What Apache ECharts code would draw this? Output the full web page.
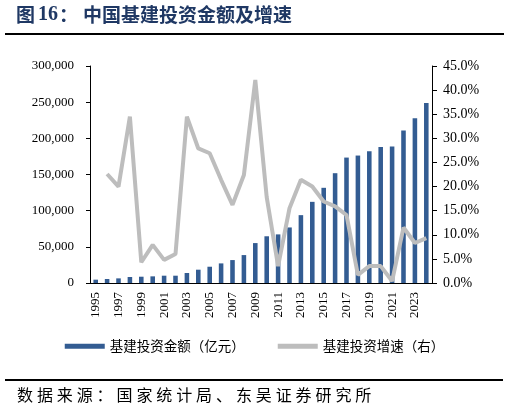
<!DOCTYPE html>
<html><head><meta charset="utf-8">
<script src="https://cdn.jsdelivr.net/npm/echarts@6/dist/echarts.min.js"></script>
<style>html,body{margin:0;padding:0;background:#fff}#c{width:509px;height:413px}</style>
</head><body><div id="c"></div>
<script>
const years = ['1995','1996','1997','1998','1999','2000','2001','2002','2003','2004','2005','2006','2007','2008','2009','2010','2011','2012','2013','2014','2015','2016','2017','2018','2019','2020','2021','2022','2023','2024'];
const investAmount = [4600,5500,6400,8300,8700,9200,10100,10100,13800,18400,22500,27100,31700,38600,55200,64600,67200,76800,93800,112200,131600,151800,173400,176200,182200,188100,188600,210700,227700,248900];
const investGrowth = [null,22.6,20.0,34.5,4.3,7.9,4.8,6.0,34.5,27.9,26.9,21.4,16.2,22.4,42.1,17.8,3.5,15.5,21.4,20.0,16.9,15.9,14.1,1.7,3.5,3.5,0.4,11.5,8.3,9.3];
const seriesNames = ['基建投资金额（亿元）','基建投资增速（右）'];
const titlePrefix = '图';
const titleNumber = '16';
const titleColon = '：';
const titleRest = '中国基建投资金额及增速';
const sourceText = '数据来源：国家统计局、东吴证券研究所';

const serif = '"Liberation Serif","Times New Roman",serif';
const cjk = '"Noto Sans CJK SC","Noto Sans CJK JP",sans-serif';

const sourceChars = Array.from(sourceText).map((ch,i)=>({
  type:'text',left:17+i*19.9,top:387,
  style:{text:ch,font:'16px '+cjk,fill:'#000'}
}));

const chart = echarts.init(document.getElementById('c'));
chart.setOption({
  animation:false,
  backgroundColor:'#fff',
  graphic:[
    {type:'text',left:16,top:5,style:{
      text:'{a|'+titlePrefix+'}{n|'+titleNumber+'}{c|'+titleColon+'}{a|'+titleRest+'}',
      rich:{
        a:{font:'bold 19px '+cjk,fill:'#1F3864'},
        c:{font:'bold 19px '+cjk,fill:'#1F3864',padding:[0,5,0,0]},
        n:{font:'bold 20px '+serif,fill:'#1F3864',padding:[0,1,0,3]}
      }}},
    {type:'rect',shape:{x:5,y:33,width:499,height:2},style:{fill:'#000'}},
    {type:'rect',shape:{x:5,y:379,width:498,height:2},style:{fill:'#000'}}
  ].concat(sourceChars),
  legend:{
    bottom:55, left:'center', itemGap:33, itemWidth:40, itemHeight:5,
    data:[{name:seriesNames[0],icon:'rect'},{name:seriesNames[1],icon:'rect'}],
    textStyle:{fontFamily:cjk,fontSize:13.5,color:'#000'}
  },
  grid:{left:90,right:77,top:66,bottom:130},
  xAxis:{
    type:'category',data:years,boundaryGap:true,
    axisLine:{lineStyle:{color:'#000'}},
    axisTick:{interval:1,length:4,inside:false,lineStyle:{color:'#000'}},
    axisLabel:{interval:1,rotate:90,margin:9,fontFamily:serif,fontSize:13,color:'#000'}
  },
  yAxis:[
    {type:'value',min:0,max:300000,interval:50000,
     axisLine:{show:true,lineStyle:{color:'#000'}},
     axisTick:{show:true,length:4,lineStyle:{color:'#000'}},
     splitLine:{show:false},
     axisLabel:{margin:16,fontFamily:serif,fontSize:13,color:'#000',
       formatter:v=>v.toLocaleString('en-US')}},
    {type:'value',min:0,max:45,interval:5,
     axisLine:{show:true,lineStyle:{color:'#000'}},
     axisTick:{show:true,length:5,lineStyle:{color:'#000'}},
     splitLine:{show:false},
     axisLabel:{margin:11,fontFamily:serif,fontSize:14,color:'#000',
       formatter:v=>v.toFixed(1)+'%'}}
  ],
  series:[
    {name:seriesNames[0],type:'bar',data:investAmount,barWidth:'40%',itemStyle:{color:'#335C92'}},
    {name:seriesNames[1],type:'line',yAxisIndex:1,data:investGrowth,symbol:'none',
     lineStyle:{width:4,color:'#BDBDBD'},itemStyle:{color:'#BDBDBD'},connectNulls:false}
  ]
});
</script></body></html>
